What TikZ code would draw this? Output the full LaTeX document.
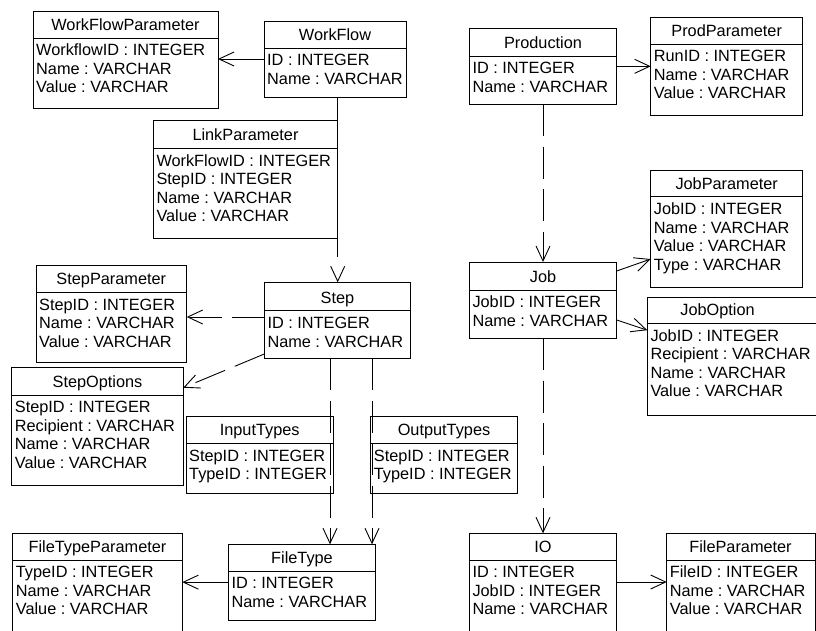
\documentclass[tikz,border=0pt]{standalone}
\usepackage{fontspec}
\setmainfont{Liberation Sans}
\usetikzlibrary{arrows.meta}
\tikzset{
  cls/.style={draw=black, line width=0.9pt, inner sep=0pt, outer sep=0pt, rectangle},
  clsline/.style={draw=black, line width=0.9pt},
  txt/.style={inner sep=0pt, outer sep=0pt, font=\fontsize{16.3}{18.5}\selectfont\frenchspacing},
  conn/.style={draw=black, line width=0.9pt, -{Straight Barb[length=15pt,width=14pt,line width=0.9pt]}},
  dep/.style={conn, dash pattern=on 32pt off 10.5pt},
}
\newcommand\umlbox[9]{%
  \node[cls, anchor=north west, minimum width={#4-#2}, minimum height={#5-#3}] (#1) at (#2,#3) {};
  \draw[clsline] (#2,#6) -- (#4,#6);
  \node[txt, anchor=base] (#1-t) at (#7,#6-7.5) {#8};
  \foreach \attr [count=\k] in {#9}
    \node[txt, anchor=base west] (#1-\k) at (#2+3.2, #6+17.8+18.5*\k-18.5) {\attr};
}
\begin{document}
\begin{tikzpicture}[x=1pt,y=-1pt]
\useasboundingbox (0,0) rectangle (816,630);
\fill[white] (0,0) rectangle (816,630);

\umlbox{wfp}{33}{11}{218}{108}{38}{125.5}{WorkFlowParameter}{WorkflowID : INTEGER, Name : VARCHAR, Value : VARCHAR}
\umlbox{wf}{264}{21}{406}{97}{48}{335}{WorkFlow}{ID : INTEGER, Name : VARCHAR}
\umlbox{lnk}{153.3}{120.7}{337.7}{238.3}{148.3}{245.5}{LinkParameter}{WorkFlowID : INTEGER, StepID : INTEGER, Name : VARCHAR, Value : VARCHAR}
\umlbox{prod}{469.3}{28.3}{616.7}{104.3}{56}{543}{Production}{ID : INTEGER, Name : VARCHAR}
\umlbox{pp}{650.7}{17.3}{802.7}{115.3}{44}{726.7}{ProdParameter}{RunID : INTEGER, Name : VARCHAR, Value : VARCHAR}
\umlbox{jp}{650.7}{170}{802.7}{287.7}{196.7}{726.7}{JobParameter}{JobID : INTEGER, Name : VARCHAR, Value : VARCHAR, Type : VARCHAR}
\umlbox{job}{469.3}{262}{616.7}{338}{290}{543}{Job}{JobID : INTEGER, Name : VARCHAR}
\umlbox{jo}{647.3}{297.3}{830}{415}{323.3}{717.5}{JobOption}{JobID : INTEGER, Recipient : VARCHAR, Name : VARCHAR, Value : VARCHAR}
\umlbox{sp}{36}{265}{186.7}{362}{292.3}{111.3}{StepParameter}{StepID : INTEGER, Name : VARCHAR, Value : VARCHAR}
\umlbox{step}{264.3}{282.3}{410.7}{358.3}{310.7}{337.5}{Step}{ID : INTEGER, Name : VARCHAR}
\umlbox{so}{11.7}{367.7}{183.3}{485.7}{395}{97.5}{StepOptions}{StepID : INTEGER, Recipient : VARCHAR, Name : VARCHAR, Value : VARCHAR}
\umlbox{it}{186}{416.7}{333.3}{493.3}{443.3}{259.7}{InputTypes}{StepID : INTEGER, TypeID : INTEGER}
\umlbox{ot}{370.7}{416.7}{517.3}{493.3}{443.3}{444}{OutputTypes}{StepID : INTEGER, TypeID : INTEGER}
\umlbox{ftp}{12.7}{533.3}{182.3}{645}{560}{97.5}{FileTypeParameter}{TypeID : INTEGER, Name : VARCHAR, Value : VARCHAR}
\umlbox{ft}{228.3}{544.3}{375.7}{620}{571}{302}{FileType}{ID : INTEGER, Name : VARCHAR}
\umlbox{io}{469.3}{533.3}{616.7}{645}{560}{543}{IO}{ID : INTEGER, JobID : INTEGER, Name : VARCHAR}
\umlbox{fp}{666.7}{533.3}{815}{645}{560}{740.5}{FileParameter}{FileID : INTEGER, Name : VARCHAR, Value : VARCHAR}

% connectors
\draw[conn] (wf.west) -- (wf.west -| wfp.east);
\draw[conn] (prod.east) -- (prod.east -| pp.west);
\draw[conn, dash pattern=on 160pt off 30pt] (wf.south -| lnk.east) -- (step.north -| lnk.east);
\draw[dep] ([yshift=3.3pt]step.west) -- ([yshift=3.3pt]step.west -| sp.east);
\draw[dep] ([yshift=-33.7pt]step.west) -- ([yshift=-20pt]so.north east);
\draw[dep] (prod.south) -- (job.north);
\draw[dep] (job.south) -- (io.north);
\draw[conn] ([yshift=-9pt]job.north east) -- ([yshift=-30.2pt]jp.west);
\draw[conn] ([yshift=-20pt]job.east) -- ([yshift=26pt]jo.west);
\draw[dep] ([xshift=-7.5pt]step.south) -- ([xshift=-7.5pt]step.south |- ft.north);
\draw[dep] ([xshift=34.5pt]step.south) -- ([xshift=34.5pt]step.south |- ft.north);
\draw[conn] (ft.west) -- (ft.west -| ftp.east);
\draw[conn] ([yshift=-48.7pt]io.north east) -- ([yshift=-48.7pt]io.north east -| fp.west);
\end{tikzpicture}
\end{document}
